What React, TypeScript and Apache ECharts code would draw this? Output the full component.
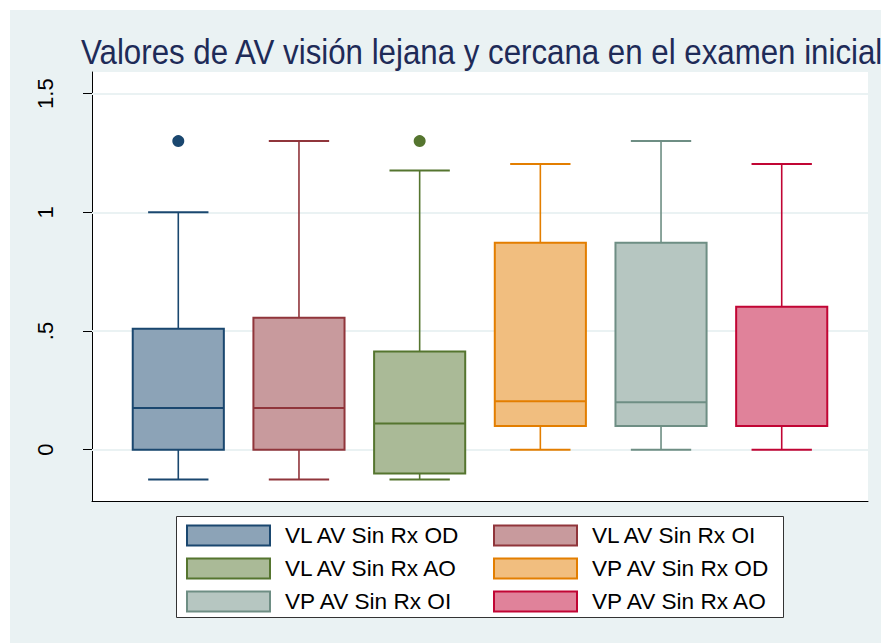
import React, { useEffect, useRef } from "react";
import * as echarts from "echarts";

const categories = [
  "VL AV Sin Rx OD",
  "VL AV Sin Rx OI",
  "VL AV Sin Rx AO",
  "VP AV Sin Rx OD",
  "VP AV Sin Rx OI",
  "VP AV Sin Rx AO",
];
const positions = [1, 2, 3, 4, 5, 6];
const lowerWhisker = [-0.125, -0.125, -0.125, 0, 0, 0];
const q1 = [0, 0, -0.1, 0.1, 0.1, 0.1];
const median = [0.176, 0.176, 0.11, 0.204, 0.2, 0.1];
const q3 = [0.51, 0.556, 0.414, 0.872, 0.872, 0.602];
const upperWhisker = [1.0, 1.3, 1.176, 1.204, 1.3, 1.204];
const outlierGroup = [0, 2];
const outlierValue = [1.3, 1.3];

const yTicks = [0, 0.5, 1, 1.5];
const yTickLabels = ["0", ".5", "1", "1.5"];

const strokeColors = ["#1a476f", "#90353b", "#55752f", "#e37e00", "#6e8e84", "#c10534"];
const fillColors = ["#8ca3b7", "#c89a9d", "#aaba97", "#f1be7f", "#b6c6c1", "#e0829a"];

const titleText = "Valores de AV visión lejana y cercana en el examen inicial";
const FONT = '"Liberation Sans", Arial, Helvetica, sans-serif';
const BOX_WIDTH = 0.755;
const CAP_WIDTH = 0.5;

function makeRender(i: number) {
  return (params: any, api: any) => {
    const x = api.value(0);
    const lo = api.coord([x, api.value(1)]);
    const p1 = api.coord([x, api.value(2)]);
    const pm = api.coord([x, api.value(3)]);
    const p3 = api.coord([x, api.value(4)]);
    const hi = api.coord([x, api.value(5)]);
    const cx = lo[0];
    const half = api.size([BOX_WIDTH, 0])[0] / 2;
    const capHalf = api.size([CAP_WIDTH, 0])[0] / 2;
    const stroke = strokeColors[i];
    return {
      type: "group",
      children: [
        { type: "line", shape: { x1: cx, y1: p3[1], x2: cx, y2: hi[1] }, style: { stroke, lineWidth: 1.6 } },
        { type: "line", shape: { x1: cx - capHalf, y1: hi[1], x2: cx + capHalf, y2: hi[1] }, style: { stroke, lineWidth: 2 } },
        { type: "line", shape: { x1: cx, y1: p1[1], x2: cx, y2: lo[1] }, style: { stroke, lineWidth: 1.6 } },
        { type: "line", shape: { x1: cx - capHalf, y1: lo[1], x2: cx + capHalf, y2: lo[1] }, style: { stroke, lineWidth: 2 } },
        {
          type: "rect",
          shape: { x: cx - half, y: p3[1], width: half * 2, height: p1[1] - p3[1] },
          style: { fill: fillColors[i], stroke, lineWidth: 2 },
        },
        { type: "line", shape: { x1: cx - half, y1: pm[1], x2: cx + half, y2: pm[1] }, style: { stroke, lineWidth: 2 } },
      ],
    };
  };
}

function buildOption(): any {
  const boxSeries = categories.map((name, i) => ({
    name,
    type: "custom",
    z: 3,
    itemStyle: { color: fillColors[i], borderColor: strokeColors[i], borderWidth: 2 },
    renderItem: makeRender(i),
    encode: { x: 0, y: [1, 2, 3, 4, 5] },
    data: [[positions[i], lowerWhisker[i], q1[i], median[i], q3[i], upperWhisker[i]]],
  }));

  const outlierSeries = {
    type: "scatter",
    z: 2,
    symbol: "circle",
    symbolSize: 12,
    silent: true,
    data: outlierGroup.map((g, k) => ({
      value: [positions[g], outlierValue[k]],
      itemStyle: { color: strokeColors[g], opacity: 1 },
    })),
    markLine: {
      z: 1,
      silent: true,
      symbol: "none",
      label: { show: false },
      lineStyle: { color: "#eaf2f3", width: 2, type: "solid" },
      data: yTicks.map((v) => ({ yAxis: v })),
    },
  };

  const legendCommon = {
    orient: "vertical",
    icon: "rect",
    itemWidth: 83,
    itemHeight: 20,
    itemGap: 10,
    padding: 0,
    selectedMode: false,
    textStyle: { fontSize: 22.6, fontFamily: FONT, color: "#000", padding: [0, 0, 0, 10], lineHeight: 22 },
  };
  const legendItem = (i: number) => ({
    name: categories[i],
    itemStyle: { color: fillColors[i], borderColor: strokeColors[i], borderWidth: 2 },
  });

  return {
    animation: false,
    backgroundColor: "transparent",
    textStyle: { fontFamily: FONT },
    grid: {
      left: 92,
      right: 13,
      top: 72,
      bottom: 142,
      show: true,
      backgroundColor: "#ffffff",
      borderWidth: 0,
    },
    xAxis: {
      type: "value",
      min: 0.285,
      max: 6.715,
      axisLine: { show: true, onZero: false, lineStyle: { color: "#000", width: 1 } },
      axisTick: { show: false },
      axisLabel: { show: false },
      splitLine: { show: false },
    },
    yAxis: {
      type: "value",
      min: -0.216,
      max: 1.591,
      axisLine: { show: true, onZero: false, lineStyle: { color: "#000", width: 1 } },
      axisTick: { show: true, length: 9, customValues: yTicks, lineStyle: { color: "#000", width: 1 } },
      axisLabel: {
        show: true,
        customValues: yTicks,
        rotate: 90,
        margin: 36,
        fontSize: 22,
        fontFamily: FONT,
        color: "#000",
        formatter: (v: number) => {
          const k = yTicks.findIndex((t) => Math.abs(t - v) < 1e-9);
          return k >= 0 ? yTickLabels[k] : "";
        },
      },
      splitLine: { show: false },
    },
    legend: [
      { ...legendCommon, left: 186, top: 524, data: [0, 2, 4].map(legendItem) },
      { ...legendCommon, left: 493, top: 524, data: [1, 3, 5].map(legendItem) },
    ],
    graphic: [
      {
        type: "rect",
        z: 0,
        shape: { x: 176.5, y: 516.5, width: 607, height: 101 },
        style: { fill: "#ffffff", stroke: "#333333", lineWidth: 1 },
      },
      {
        type: "text",
        x: 81,
        y: 52,
        scaleX: 0.893,
        style: {
          text: titleText,
          fontSize: 35,
          fontFamily: FONT,
          fill: "#1e2b58",
          textAlign: "left",
          textVerticalAlign: "middle",
        },
      },
    ],
    series: [outlierSeries, ...boxSeries],
  };
}

export default function App() {
  const ref = useRef<HTMLDivElement>(null);
  useEffect(() => {
    document.body.style.margin = "0";
    const chart = echarts.init(ref.current!, null, { renderer: "svg" });
    chart.setOption(buildOption());
    return () => chart.dispose();
  }, []);
  return (
    <div style={{ position: "fixed", left: 0, top: 0, width: 881, height: 643, background: "#ffffff", overflow: "hidden" }}>
      <div style={{ position: "absolute", left: 10, top: 10, right: 0, bottom: 0, background: "#eaf2f3" }} />
      <div ref={ref} style={{ position: "absolute", left: 0, top: 0, width: 881, height: 643 }} />
    </div>
  );
}
